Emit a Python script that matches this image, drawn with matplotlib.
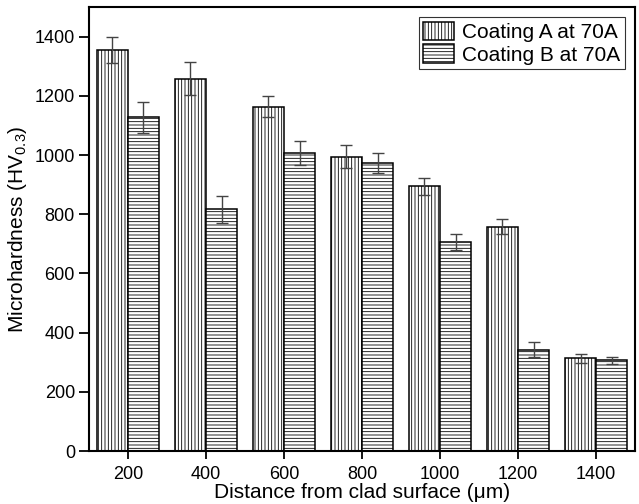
import numpy as np
import matplotlib.pyplot as plt

plt.rcParams['font.family'] = ['Liberation Sans', 'DejaVu Sans']
plt.rcParams['mathtext.fontset'] = 'custom'
plt.rcParams['mathtext.rm'] = 'Liberation Sans'
plt.rcParams['hatch.linewidth'] = 0.6

# data
distance = [200, 400, 600, 800, 1000, 1200, 1400]
coating_a = [1355, 1258, 1163, 995, 895, 758, 313]
coating_a_err = [45, 56, 35, 40, 29, 25, 15]
coating_b = [1127, 817, 1007, 972, 707, 343, 307]
coating_b_err = [52, 46, 39, 34, 28, 25, 12]

x = np.array(distance)
w = 80

fig = plt.figure(figsize=(6.39, 5.04), dpi=100)
ax = fig.add_axes([0.139, 0.105, 0.855, 0.881])

err_kw = dict(ecolor='#444444', elinewidth=1.0, capsize=4.5, capthick=1.0)
ax.bar(x - w / 2, coating_a, width=w, facecolor='white', edgecolor='black',
       linewidth=1.1, hatch='|||||', yerr=coating_a_err, error_kw=err_kw,
       label='Coating A at 70A')
ax.bar(x + w / 2, coating_b, width=w, facecolor='white', edgecolor='black',
       linewidth=1.1, hatch='-----', yerr=coating_b_err, error_kw=err_kw,
       label='Coating B at 70A')

ax.set_xlim(100, 1500)
ax.set_ylim(0, 1500)
ax.set_xticks(distance)
ax.set_yticks(range(0, 1401, 200))
ax.tick_params(axis='y', direction='out', length=7, width=1.3, labelsize=13, pad=3)
ax.tick_params(axis='x', direction='out', length=6, width=1.3, labelsize=13, pad=5)
for s in ax.spines.values():
    s.set_linewidth(1.5)

ax.set_xlabel('Distance from clad surface (μm)', fontsize=15, labelpad=0)
ax.set_ylabel('Microhardness (HV$_{0.3}$)', fontsize=15, labelpad=4)

leg = ax.legend(loc='upper right', fontsize=15, frameon=True, fancybox=False,
                edgecolor='black', handlelength=1.5, handleheight=1.0,
                handletextpad=0.4, borderpad=0.2, labelspacing=0.1,
                borderaxespad=0.5)
leg.get_frame().set_linewidth(0.8)

fig.savefig('out.png', dpi=100)
